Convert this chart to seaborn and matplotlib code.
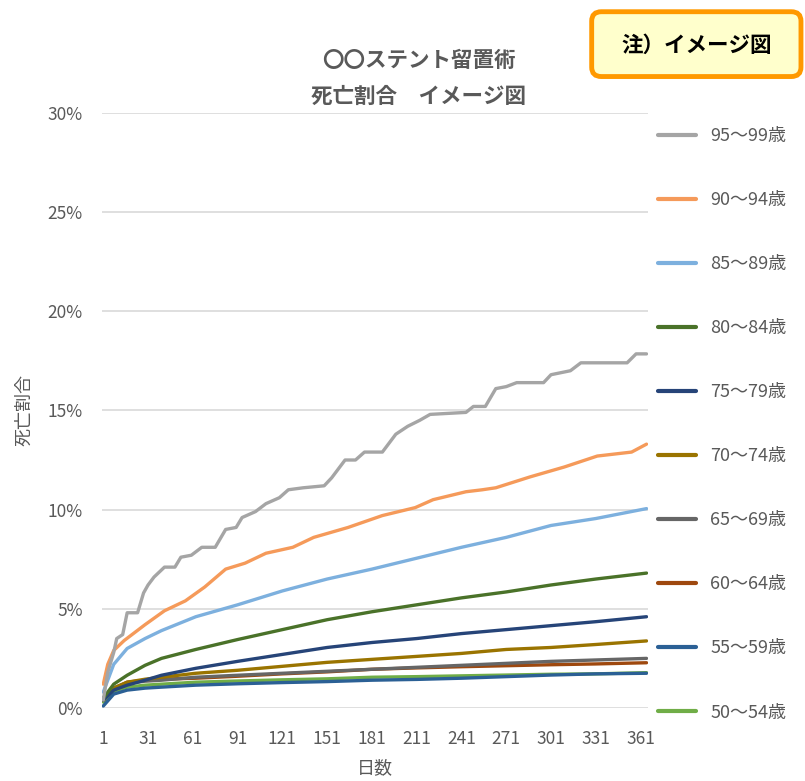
import pandas as pd
import seaborn as sns
import matplotlib.pyplot as plt
from matplotlib.patches import FancyBboxPatch
from matplotlib.lines import Line2D

# age groups (legend order, top to bottom)
groups = ['95～99歳', '90～94歳', '85～89歳', '80～84歳', '75～79歳',
          '70～74歳', '65～69歳', '60～64歳', '55～59歳', '50～54歳']
colors = ['#A5A5A5', '#F59A5A', '#7DB0DE', '#4A7229', '#264478',
          '#9A7400', '#666666', '#9E480E', '#2B6095', '#70AD47']

# cumulative death rate (%), by day
days_95 = [1, 4, 8, 10, 14, 17, 24, 28, 31, 35, 42, 49, 53, 60, 67, 76, 83, 90, 94,
           103, 110, 119, 125, 135, 149, 154, 163, 170, 176, 188, 197, 205, 213, 220,
           244, 249, 257, 264, 271, 278, 296, 301, 314, 321, 352, 358, 365]
rate_95 = [0.4, 1.8, 2.8, 3.5, 3.7, 4.8, 4.8, 5.8, 6.2, 6.6, 7.1, 7.1, 7.6, 7.7, 8.1, 8.1,
           9.0, 9.1, 9.6, 9.9, 10.3, 10.6, 11.0, 11.1, 11.2, 11.6, 12.5, 12.5, 12.9, 12.9,
           13.8, 14.2, 14.5, 14.8, 14.9, 15.2, 15.2, 16.1, 16.2, 16.4, 16.4, 16.8, 17.0,
           17.4, 17.4, 17.85, 17.85]

days_90 = [1, 4, 8, 15, 22, 29, 42, 56, 69, 83, 96, 110, 128, 142, 165, 188, 210, 222,
           244, 255, 264, 287, 310, 332, 355, 365]
rate_90 = [1.2, 2.2, 2.9, 3.4, 3.8, 4.2, 4.9, 5.4, 6.1, 7.0, 7.3, 7.8, 8.1, 8.6, 9.1,
           9.7, 10.1, 10.5, 10.9, 11.0, 11.1, 11.65, 12.15, 12.7, 12.9, 13.3]

days_std = [1, 8, 17, 29, 40, 63, 91, 121, 151, 181, 211, 241, 271, 301, 331, 365]
rate_85 = [0.8, 2.2, 3.0, 3.5, 3.9, 4.6, 5.2, 5.9, 6.5, 7.0, 7.55, 8.1, 8.6, 9.2, 9.55, 10.05]
rate_80 = [0.5, 1.2, 1.65, 2.15, 2.5, 2.95, 3.45, 3.95, 4.45, 4.85, 5.2, 5.55, 5.85, 6.2, 6.5, 6.8]
rate_75 = [0.4, 0.9, 1.15, 1.4, 1.65, 2.0, 2.35, 2.7, 3.05, 3.3, 3.5, 3.75, 3.95, 4.15, 4.35, 4.6]
rate_70 = [0.4, 1.0, 1.3, 1.45, 1.55, 1.75, 1.9, 2.1, 2.3, 2.45, 2.6, 2.75, 2.95, 3.05, 3.2, 3.38]
rate_65 = [0.4, 1.0, 1.25, 1.35, 1.4, 1.55, 1.65, 1.75, 1.85, 1.95, 2.05, 2.15, 2.25, 2.35, 2.42, 2.5]
rate_60 = [0.4, 1.0, 1.3, 1.4, 1.45, 1.5, 1.6, 1.72, 1.82, 1.95, 2.02, 2.08, 2.13, 2.18, 2.22, 2.28]
rate_55 = [0.1, 0.7, 0.9, 1.0, 1.05, 1.15, 1.22, 1.28, 1.33, 1.4, 1.44, 1.5, 1.58, 1.66, 1.72, 1.75]
rate_50 = [0.3, 0.85, 1.05, 1.15, 1.2, 1.3, 1.36, 1.42, 1.47, 1.55, 1.58, 1.62, 1.66, 1.7, 1.72, 1.78]

x_ticks = [1, 31, 61, 91, 121, 151, 181, 211, 241, 271, 301, 331, 361]
y_ticks = [0, 5, 10, 15, 20, 25, 30]


def main():
    series = [(days_95, rate_95), (days_90, rate_90)] + \
        [(days_std, r) for r in [rate_85, rate_80, rate_75, rate_70,
                                 rate_65, rate_60, rate_55, rate_50]]
    frames = []
    for g, (d, r) in zip(groups, series):
        frames.append(pd.DataFrame({'day': d, 'rate': r, 'group': g}))
    df = pd.concat(frames, ignore_index=True)

    sns.set_theme(style='white')
    plt.rcParams['font.family'] = ['Noto Sans CJK JP', 'DejaVu Sans']
    txt = '#595959'

    fig = plt.figure(figsize=(8.05, 7.81), dpi=100)
    ax = fig.add_axes([0.127, 0.0935, 0.678, 0.762])

    # draw lowest groups first so the upper curves sit on top
    palette = dict(zip(groups, colors))
    sns.lineplot(data=df, x='day', y='rate', hue='group',
                 hue_order=groups[::-1], palette=palette,
                 estimator=None, linewidth=2.4, legend=False, ax=ax)

    ax.set_xlim(0.3, 366)
    ax.set_ylim(0, 30)
    ax.set_xticks(x_ticks)
    ax.set_yticks(y_ticks)
    ax.set_yticklabels([f'{v}%' for v in y_ticks])
    ax.tick_params(axis='both', colors=txt, labelsize=12.5, length=0)
    ax.tick_params(axis='x', pad=16)
    ax.tick_params(axis='y', pad=14)
    ax.grid(axis='y', color='#D9D9D9', linewidth=1.2)
    ax.set_axisbelow(True)
    for s in ax.spines.values():
        s.set_visible(False)

    ax.set_xlabel('日数', color=txt, fontsize=13, labelpad=8)
    ax.set_ylabel('死亡割合', color=txt, fontsize=13, labelpad=10)

    fig.text(0.52, 0.922, '〇〇ステント留置術', ha='center', va='center',
             fontsize=15.5, color=txt, fontweight='bold')
    fig.text(0.52, 0.877, '死亡割合　イメージ図', ha='center', va='center',
             fontsize=15.5, color=txt, fontweight='bold')

    handles = [Line2D([], [], color=c, linewidth=3) for c in colors]
    leg = fig.legend(handles, groups, loc='upper left',
                     bbox_to_anchor=(0.797, 0.858), frameon=False,
                     fontsize=13, labelspacing=2.55, handlelength=2.1,
                     handletextpad=0.8)
    for t in leg.get_texts():
        t.set_color(txt)

    # note box in the top right corner
    box = FancyBboxPatch((0.735, 0.902), 0.26, 0.083,
                         boxstyle='round,pad=0,rounding_size=0.012',
                         transform=fig.transFigure, facecolor='#FFFFCC',
                         edgecolor='#FF9900', linewidth=3.5)
    fig.patches.append(box)
    fig.text(0.866, 0.942, '注）イメージ図', ha='center', va='center',
             fontsize=15.5, fontweight='bold', color='black')

    plt.savefig('out.png', dpi=100)
    plt.close()


if __name__ == "__main__":
    main()
